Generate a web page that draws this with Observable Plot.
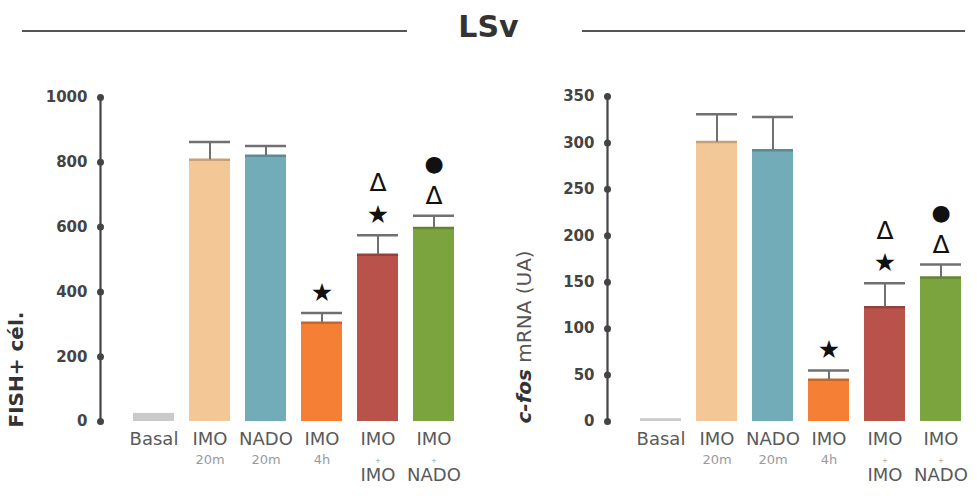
<!DOCTYPE html>
<html><head><meta charset="utf-8">
<script src="https://cdn.jsdelivr.net/npm/d3@7"></script>
<script src="https://cdn.jsdelivr.net/npm/@observablehq/plot@0.6"></script>
<style>
body{margin:0;background:#fff;font-family:"DejaVu Sans",sans-serif;}
#header{position:relative;height:70px;width:977px;}
#title{position:absolute;left:0;width:977px;top:10px;text-align:center;font-weight:bold;font-size:30px;line-height:34px;color:#333;}
.line{position:absolute;top:30px;height:2px;background:#555;}
#charts{display:flex;width:977px;}
#charts svg{display:block;}
</style></head><body>
<div id="header"><div class="line" style="left:22px;width:385px"></div><div id="title">LSv</div><div class="line" style="left:582px;width:383px"></div></div>
<div id="charts"></div>
<script>
const categories = ["Basal","IMO 20m","NADO 20m","IMO 4h","IMO+IMO","IMO+NADO"];
const labelLine1 = ["Basal","IMO","NADO","IMO","IMO","IMO"];
const labelLine2 = ["","20m","20m","4h","+","+"];
const labelLine3 = ["","","","","IMO","NADO"];
const colors = ["#cacaca","#f4c796","#72acb8","#f47f35","#b9524b","#7ba43f"];
const fishValues = [25,808,820,305,515,597];
const fishErrors = [0,55,30,30,60,38];
const cfosValues = [3,301,292,45,123,155];
const cfosErrors = [0,30,36,10,26,14];
const fishSymbols = [[],[],[],["★"],["★","Δ"],["Δ","●"]];
const cfosSymbols = [[],[],[],["★"],["★","Δ"],["Δ","●"]];
const fishTicks = [0,200,400,600,800,1000];
const cfosTicks = [0,50,100,150,200,250,300,350];

function build(values, errors, symbols, ticks, ymax, opts) {
  const data = categories.map((c,i)=>({cat:c, value:values[i], err:errors[i], color:colors[i],
    l1:labelLine1[i], l2:labelLine2[i], l3:labelLine3[i]}));
  const withErr = data.filter(d=>d.err>0);
  const syms = [];
  data.forEach((d,i)=>symbols[i].forEach((s,level)=>syms.push({cat:d.cat, top:d.value+d.err, sym:s, level,
    size: s==="Δ"?25:(s==="●"?22:25)})));
  const symMark = lvl => Plot.text(syms.filter(s=>s.level===lvl), {x:"cat", y:"top", text:"sym",
    dy: lvl===0?-20:-52, fontSize:"size", fill:"#111", fontFamily:"DejaVu Sans"});
  const lab = (filter, key, dy, size, fill) => Plot.text(data.filter(filter), {x:"cat", text:key,
    frameAnchor:"bottom", dy, fontSize:size, fill, fontFamily:"DejaVu Sans"});
  const p = Plot.plot({
    width: opts.width, height: 426,
    marginTop: opts.marginTop, marginBottom: 75, marginLeft: opts.marginLeft, marginRight: 10,
    x: {domain: categories, range: opts.xrange, paddingInner: 0.26, paddingOuter: 0, axis: null},
    y: {domain: [0, ymax], axis: null},
    color: {type: "identity"},
    style: {fontFamily: "DejaVu Sans", background: "white", overflow: "visible"},
    marks: [
      Plot.barY(data, {x:"cat", y:"value", fill:"color"}),
      Plot.tickY(withErr, {x:"cat", y:"value", stroke: d=>d3.color(d.color).darker(0.6).formatHex(), strokeWidth:2.5}),
      Plot.ruleX(withErr, {x:"cat", y1:"value", y2:d=>d.value+d.err, stroke:"#707070", strokeWidth:2}),
      Plot.tickY(withErr, {x:"cat", y:d=>d.value+d.err, stroke:"#707070", strokeWidth:2.5}),
      Plot.frame({anchor:"left", stroke:"#444", strokeWidth:2.2}),
      Plot.dot(ticks, {y:d=>d, frameAnchor:"left", r:3.5, fill:"#444"}),
      Plot.text(ticks, {y:d=>d, text:d=>String(d), frameAnchor:"left", dx:-13, textAnchor:"end",
        fontWeight:"bold", fontSize:15, fill:"#444"}),
      symMark(0), symMark(1),
      lab(d=>d.l1, "l1", 23, 18, "#5a5a5a"),
      lab(d=>d.l2 && d.l2 !== "+", "l2", 42, 13, "#9a9a9a"),
      lab(d=>d.l2 === "+", "l2", 41, 7, "#9a9a9a"),
      lab(d=>d.l3, "l3", 59, 18, "#5a5a5a"),
      Plot.text([opts.label], {frameAnchor:"bottom-left", rotate:-90, textAnchor:"start",
        dx: opts.labelDx, dy: opts.labelDy, fontWeight: opts.labelWeight, fontSize:20, fill:"#333"})
    ]
  });
  return p;
}

const left = build(fishValues, fishErrors, fishSymbols, fishTicks, 1000,
  {width:488, marginTop:27, marginLeft:100, xrange:[130,457], label:"FISH+ cél.", labelDx:-78, labelDy:6, labelWeight:"bold"});
const right = build(cfosValues, cfosErrors, cfosSymbols, cfosTicks, 350,
  {width:489, marginTop:26, marginLeft:119, xrange:[150,475], label:"c-fos mRNA (UA)", labelDx:-77, labelDy:2, labelWeight:"normal"});
document.getElementById("charts").append(left, right);

// style the c-fos part of the right axis label
d3.select(right).selectAll("text").each(function(){
  if (this.textContent === "c-fos mRNA (UA)") {
    const t = d3.select(this);
    t.text(null);
    t.append("tspan").attr("font-weight","bold").attr("font-style","italic").attr("fill","#333").text("c-fos");
    t.append("tspan").attr("font-weight","normal").attr("fill","#555").text(" mRNA (UA)");
  }
});
</script>
</body></html>
